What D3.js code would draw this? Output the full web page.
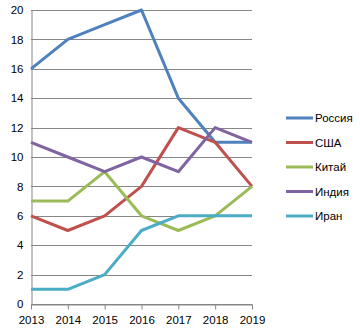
<!DOCTYPE html>
<html><head><meta charset="utf-8">
<script src="https://cdn.jsdelivr.net/npm/d3@7"></script>
<style>body{margin:0;background:#fff}svg{display:block}text{font-family:"Liberation Sans",Arial,sans-serif;font-size:11.5px;fill:#000}</style>
</head><body>
<script>
const years = [2013, 2014, 2015, 2016, 2017, 2018, 2019];
const yTicks = [0, 2, 4, 6, 8, 10, 12, 14, 16, 18, 20];
const seriesNames = ["Россия", "США", "Китай", "Индия", "Иран"];
const russia = [16, 18, 19, 20, 14, 11, 11];
const usa = [6, 5, 6, 8, 12, 11, 8];
const china = [7, 7, 9, 6, 5, 6, 8];
const india = [11, 10, 9, 10, 9, 12, 11];
const iran = [1, 1, 2, 5, 6, 6, 6];
const colors = ["#4F81BD", "#C0504D", "#9BBB59", "#8064A2", "#4BACC6"];
const seriesValues = [russia, usa, china, india, iran];

const W = 360, H = 331;
const svg = d3.select("body").append("svg").attr("width", W).attr("height", H);
const x = d3.scalePoint().domain(years).range([31, 252]);
const y = d3.scaleLinear().domain([0, 20]).range([304, 10]);

// gridlines
svg.append("g").selectAll("line").data(yTicks).join("line")
  .attr("x1", 31).attr("x2", 252)
  .attr("y1", d => Math.round(y(d)) + 0.5).attr("y2", d => Math.round(y(d)) + 0.5)
  .attr("stroke", "#868686").attr("stroke-width", 1);

// y axis
const ya = svg.append("g").attr("transform", "translate(31.5,0)")
  .call(d3.axisLeft(y).tickValues(yTicks).tickSize(0).tickPadding(8));
ya.select(".domain").attr("stroke", "#868686");
ya.selectAll("text").style("font-size", "11.5px").style("font-family", "Liberation Sans, Arial, sans-serif");

// x axis
const xa = svg.append("g").attr("transform", "translate(0,304.5)")
  .call(d3.axisBottom(x).tickSize(5).tickPadding(6).tickSizeOuter(0));
xa.select(".domain").attr("stroke", "#868686");
xa.selectAll("line").attr("stroke", "#868686");
xa.selectAll("text").style("font-size", "11.5px").style("font-family", "Liberation Sans, Arial, sans-serif");

// lines
const line = d3.line().x((d, i) => x(years[i])).y(d => y(d));
svg.append("g").selectAll("path").data(seriesValues).join("path")
  .attr("d", d => line(d)).attr("fill", "none")
  .attr("stroke", (d, i) => colors[i]).attr("stroke-width", 3).attr("stroke-linejoin", "round");

// legend
const lg = svg.append("g").selectAll("g").data(seriesNames).join("g")
  .attr("transform", (d, i) => `translate(286,${118 + i * 24.5})`);
lg.append("line").attr("x1", 0).attr("x2", 27).attr("stroke", (d, i) => colors[i]).attr("stroke-width", 3);
lg.append("text").attr("x", 29).attr("dy", "0.35em").text(d => d);
</script>
</body></html>
